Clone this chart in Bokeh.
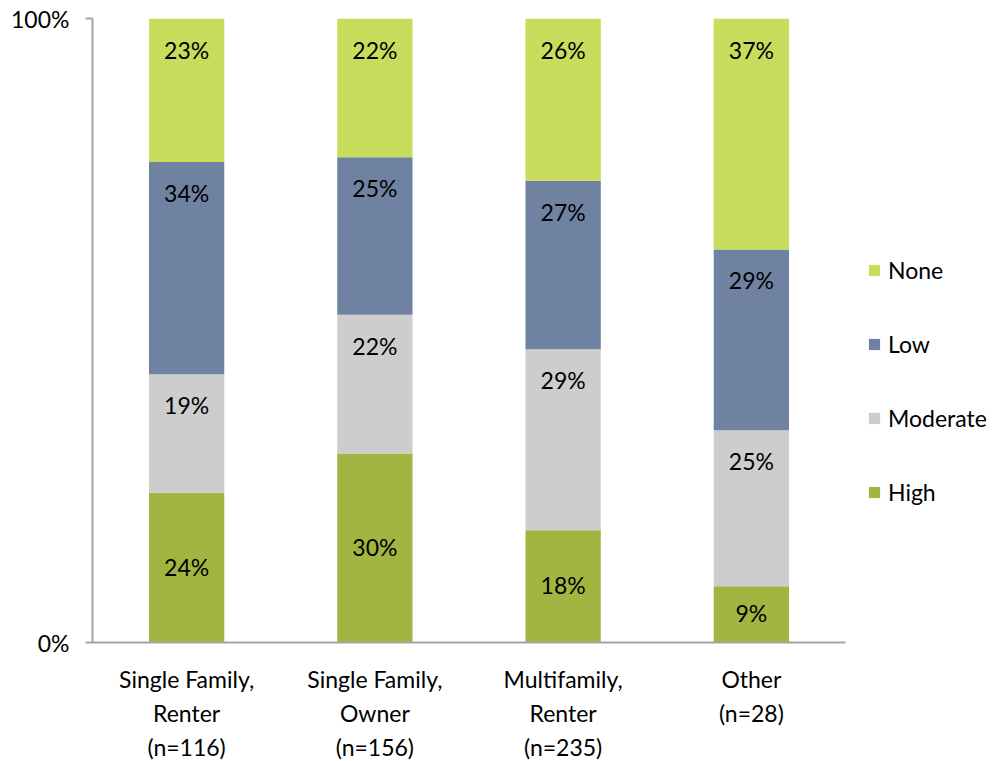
from bokeh.plotting import figure
from bokeh.models import FactorRange, Range1d, FixedTicker, Legend, LegendItem, ColumnDataSource
from bokeh.core.properties import value
from bokeh.embed import file_html
from bokeh.resources import INLINE

categories = ["Single Family,\nRenter\n(n=116)", "Single Family,\nOwner\n(n=156)",
              "Multifamily,\nRenter\n(n=235)", "Other\n(n=28)"]
levels = ["High", "Moderate", "Low", "None"]
high = [24, 30, 18, 9]
moderate = [19, 22, 29, 25]
low = [34, 25, 27, 29]
none = [23, 22, 26, 37]
colors = {"High": "#a2b541", "Moderate": "#cdcdcd", "Low": "#6f82a2", "None": "#c9dd5c"}
ytick_labels = {0: "0%", 1: "100%"}

FONT = "Lato"

series = {"High": high, "Moderate": moderate, "Low": low, "None": none}
totals = [sum(series[l][i] for l in levels) for i in range(len(categories))]
data = {"cat": categories}
for l in levels:
    data[l] = [series[l][i] / totals[i] for i in range(len(categories))]
src = ColumnDataSource(data)

p = figure(x_range=FactorRange(*categories, range_padding=0), y_range=Range1d(0, 1),
           frame_width=753, frame_height=624, min_border_left=92, min_border_top=18,
           min_border_bottom=110, min_border_right=140,
           output_backend="svg", toolbar_location=None)
p.outline_line_color = None
p.grid.visible = False
p.background_fill_color = "white"

rs = p.vbar_stack(levels, x="cat", width=0.4, source=src,
                  color=[colors[l] for l in levels], line_color=None)

# labels
lx, ly, lt, base = [], [], [], []
for i, c in enumerate(categories):
    cum = 0.0
    for l in levels:
        v = series[l][i] / totals[i]
        lx.append(c)
        lt.append(f"{series[l][i]}%")
        if l == "High":
            ly.append(cum + v / 2)
            base.append(-1)
        else:
            ly.append(cum + v)
            base.append(31)
        cum += v
lsrc = ColumnDataSource(dict(x=lx, y=ly, t=lt, off=base))
p.text(x="x", y="y", text="t", y_offset="off", source=lsrc, text_align="center",
       text_baseline="middle", text_font=value(FONT), text_font_size="23px", text_color="black")

# y axis
p.yaxis.ticker = FixedTicker(ticks=[0, 1])
p.yaxis.major_label_overrides = {k: v for k, v in ytick_labels.items()}
p.yaxis.minor_tick_line_color = None
p.yaxis.major_tick_in = 0
p.yaxis.major_tick_out = 7
p.yaxis.axis_line_color = "#a3a3a3"
p.yaxis.major_tick_line_color = "#a3a3a3"
p.yaxis.axis_line_width = 2
p.yaxis.major_tick_line_width = 2
p.yaxis.major_label_text_font = FONT
p.yaxis.major_label_text_font_size = "23px"
p.yaxis.major_label_text_color = "black"
p.yaxis.major_label_standoff = 16

# x axis
p.xaxis.major_tick_line_color = None
p.xaxis.minor_tick_line_color = None
p.xaxis.axis_line_color = "#a3a3a3"
p.xaxis.axis_line_width = 2
p.xaxis.major_label_text_font = FONT
p.xaxis.major_label_text_font_size = "23px"
p.xaxis.major_label_text_color = "black"
p.xaxis.major_label_text_line_height = 1.22
p.xaxis.major_label_standoff = 16
p.xaxis.group_text_font_size = "0px"

items = [LegendItem(label=l, renderers=[rs[levels.index(l)]]) for l in ["None", "Low", "Moderate", "High"]]
legend = Legend(items=items, location=(22, 136), orientation="vertical",
                glyph_width=14, glyph_height=14, label_height=14, label_standoff=7,
                spacing=46, padding=0, margin=0, border_line_color=None,
                background_fill_alpha=0, label_text_font=FONT, label_text_font_size="23px",
                label_text_color="black")
p.add_layout(legend, "right")

open("out.html", "w").write(file_html(p, INLINE))
